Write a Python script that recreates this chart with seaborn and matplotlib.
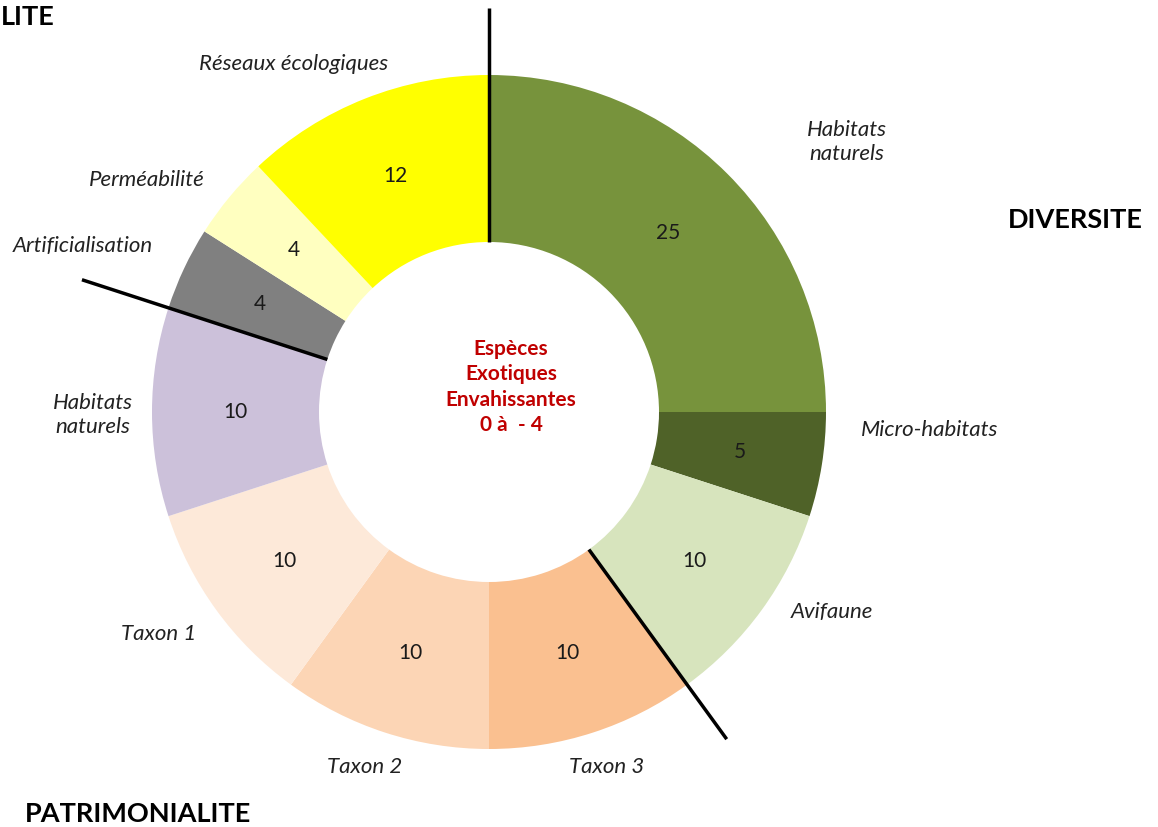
import numpy as np
import matplotlib.pyplot as plt
import seaborn as sns

# sous-critères, dans l'ordre des aiguilles d'une montre depuis midi
categories = ["Habitats\nnaturels", "Micro-habitats", "Avifaune", "Taxon 3", "Taxon 2",
              "Taxon 1", "Habitats\nnaturels", "Artificialisation", "Perméabilité",
              "Réseaux écologiques"]
points = [25, 5, 10, 10, 10, 10, 10, 4, 4, 12]
colors = ["#77933C", "#4F6228", "#D7E4BD", "#FAC090", "#FCD5B5",
          "#FDE9D9", "#CCC1DA", "#808080", "#FFFFC0", "#FFFF00"]

# grands thèmes (le dernier est coupé au bord dans le modèle) et limites en cumul de points
groups = ["DIVERSITE", "PATRIMONIALITE", "LITE"]
group_bounds = [0, 40, 80]
center_text = "Espèces\nExotiques\nEnvahissantes\n0 à  - 4"

sns.set_style("white")
plt.rcParams["font.family"] = ["Lato", "DejaVu Sans"]

W, H = 1158, 827
fig = plt.figure(figsize=(W / 100, H / 100), dpi=100)
ax = fig.add_axes([0, 0, 1, 1])

cx, cy = 489, H - 412
r_out, r_in = 337, 170

ax.pie(points, colors=colors, startangle=90, counterclock=False,
       center=(cx, cy), radius=r_out, frame=True,
       wedgeprops=dict(width=r_out - r_in, linewidth=0))
ax.set_xlim(0, W)
ax.set_ylim(0, H)
ax.set_aspect("equal")
ax.axis("off")

total = sum(points)
cum = np.cumsum([0] + points)
r_val = (r_out + r_in) / 2
for i, v in enumerate(points):
    mid = (cum[i] + v / 2) / total * 2 * np.pi
    ax.text(cx + r_val * np.sin(mid), cy + r_val * np.cos(mid), str(v),
            ha="center", va="center", fontsize=15, color="#1a1a1a")

# étiquettes placées à la main comme dans le modèle
label_xy = [(847, 142), (930, 430), (832, 612), (607, 767), (365, 767),
            (159, 634), (93, 415), (83, 246), (147, 180), (294, 64)]
for lab, (x, y) in zip(categories, label_xy):
    ax.text(x, H - y, lab, ha="center", va="center", fontsize=16,
            style="italic", color="#222222", linespacing=1.2)

# traits de séparation entre grands thèmes
line_len = [1.2, 1.2, 1.27]
for b, f in zip(group_bounds, line_len):
    a = b / total * 2 * np.pi
    ax.plot([cx + r_in * np.sin(a), cx + r_out * f * np.sin(a)],
            [cy + r_in * np.cos(a), cy + r_out * f * np.cos(a)],
            color="black", linewidth=2.5, solid_capstyle="butt")

group_xy = [(1143, 220, "right"), (25, 814, "left"), (1, 17, "left")]
for g, (x, y, ha) in zip(groups, group_xy):
    ax.text(x, H - y, g, ha=ha, va="center", fontsize=19.5, fontweight="bold",
            color="black")

ax.text(cx + 22, cy + 25, center_text, ha="center", va="center", fontsize=15,
        fontweight="bold", color="#C00000", linespacing=1.35)

fig.savefig("out.png", dpi=100)
